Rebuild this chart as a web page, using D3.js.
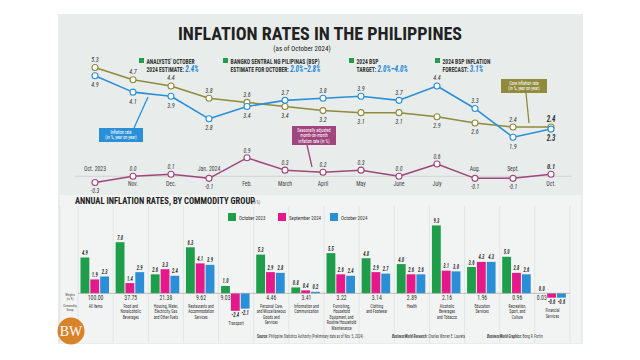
<!DOCTYPE html>
<html><head><meta charset="utf-8">
<script src="https://cdn.jsdelivr.net/npm/d3@7"></script>
<style>
html,body{margin:0;padding:0;background:#fff;}
svg{display:block;font-family:"Roboto Condensed","Liberation Sans Narrow","Roboto","Liberation Sans",sans-serif;}
</style></head>
<body>
<svg id="c" width="640" height="360"></svg>
<script>
// ---------- DATA ----------
const months = ["Oct. 2023","Nov.","Dec.","Jan. 2024","Feb.","March","April","May","June","July","Aug.","Sept.","Oct."];
const headline = [4.9,4.1,3.9,2.8,3.4,3.7,3.8,3.9,3.7,4.4,3.3,1.9,2.3];
const core = [5.3,4.7,4.4,3.8,3.6,3.4,3.2,3.1,3.1,2.9,2.6,2.4,2.4];
const mom = [-0.3,0.0,0.1,-0.1,0.9,0.3,0.2,0.3,0.0,0.6,-0.1,-0.1,0.1];

const groups = [
  ["All Items"],
  ["Food and","Nonalcoholic","Beverages"],
  ["Housing, Water,","Electricity, Gas","and Other Fuels"],
  ["Restaurants and","Accommodation","Services"],
  ["Transport"],
  ["Personal Care,","and Miscellaneous","Goods and","Services"],
  ["Information and","Communication"],
  ["Furnishing,","Household","Equipment, and","Routine Household","Maintenance"],
  ["Clothing","and Footwear"],
  ["Health"],
  ["Alcoholic","Beverages","and Tobacco"],
  ["Education","Services"],
  ["Recreation,","Sport, and","Culture"],
  ["Financial","Services"]
];
const weights = ["100.00","37.75","21.38","9.62","9.03","4.46","3.41","3.22","3.14","2.89","2.16","1.96","0.96","0.03"];
const seriesNames = ["October 2023","September 2024","October 2024"];
const oct2023 = [4.9,7.0,2.6,6.3,1.0,5.3,0.8,5.5,4.8,4.0,9.3,3.6,5.0,0.0];
const sep2024 = [1.9,1.4,3.3,4.1,-2.4,2.9,0.4,2.6,2.9,2.6,3.1,4.3,2.8,-0.6];
const oct2024 = [2.3,2.9,2.4,3.9,-2.1,2.8,0.2,2.4,2.7,2.6,3.0,4.3,2.6,-0.6];

const legendItems = [
  ["ANALYSTS' OCTOBER","2024 ESTIMATE: ","2.4%"],
  ["BANGKO SENTRAL NG PILIPINAS (BSP)","ESTIMATE FOR OCTOBER: ","2.0%–2.8%"],
  ["2024 BSP","TARGET: ","2.0%–4.0%"],
  ["2024 BSP INFLATION","FORECAST: ","3.1%"]
];

// ---------- STYLE ----------
const C = {blue:"#2b8fd8", olive:"#8f8a3c", mom:"#a0457d", green:"#1e9e4a", pink:"#e6198b", bblue:"#2a8fd6", text:"#333", hl:"#1f86d6"};
const SX = 0.8;
const svg = d3.select("#c");
const fmt = v => v.toFixed(1);

function T(sel, x, y, s, o={}){
  const t = sel.append("text")
    .attr("transform",`translate(${x},${y}) scale(${o.sx||SX},1)`)
    .attr("text-anchor",o.anchor||"start")
    .attr("font-size",o.size||7)
    .attr("fill",o.fill||"#333");
  if(o.bold) t.attr("font-weight","bold");
  if(o.italic) t.attr("font-style","italic");
  if(s!==null) t.text(s);
  return t;
}

// backgrounds
svg.append("rect").attr("x",58).attr("y",14).attr("width",525).attr("height",330).attr("fill","#e8edeb");
svg.append("rect").attr("x",60).attr("y",195).attr("width",521).attr("height",148).attr("fill","#f2f4f3");

// title
svg.append("text").attr("x",320).attr("y",39.5).attr("text-anchor","middle")
  .attr("font-size",17.5).attr("font-weight","bold").attr("fill","#222")
  .attr("textLength",284).attr("lengthAdjust","spacingAndGlyphs")
  .text("INFLATION RATES IN THE PHILIPPINES");
T(svg,302,51,"(as of October 2024)",{anchor:"middle",size:8,fill:"#222",sx:0.88});

// top legend
const legX = [139,223,349,435];
legendItems.forEach((d,i)=>{
  const g = svg.append("g").attr("transform",`translate(${legX[i]},0)`);
  g.append("rect").attr("x",0).attr("y",58).attr("width",5).attr("height",5).attr("fill",C.green);
  T(g,7.5,63.5,d[0],{size:7,bold:true});
  const t = T(g,7.5,72,null,{size:7,bold:true});
  t.append("tspan").text(d[1]);
  t.append("tspan").attr("font-size",8.8).attr("font-style","italic").attr("fill",C.hl).text(d[2]);
});

// ---------- LINE CHART ----------
const x = d3.scalePoint().domain(months).range([95,551]);
const y = d3.scaleLinear().domain([0,5.3]).range([176.3,67.5]);

svg.append("line").attr("x1",75).attr("x2",572).attr("y1",y(0)).attr("y2",y(0)).attr("stroke","#c9cecc").attr("stroke-width",0.8);

const line = d3.line().x((d,i)=>x(months[i])).y(d=>y(d));
function drawSeries(vals,color,width){
  svg.append("path").datum(vals).attr("d",line).attr("fill","none").attr("stroke",color).attr("stroke-width",width).attr("stroke-linejoin","round");
  svg.append("g").selectAll("circle").data(vals).join("circle")
    .attr("cx",(d,i)=>x(months[i])).attr("cy",d=>y(d)).attr("r",3)
    .attr("fill","#fff").attr("stroke",color).attr("stroke-width",1.1);
}
drawSeries(core,C.olive,1.5);
drawSeries(headline,C.blue,1.6);
drawSeries(mom,C.mom,1.5);

const last = months.length-1;
headline.forEach((v,i)=>{
  const above = v > core[i];
  T(svg,x(months[i]),y(v)+(above?-5.5:11.5),fmt(v),{anchor:"middle",size:i===last?8.5:7.5,italic:true,bold:i===last});
});
core.forEach((v,i)=>{
  const above = v >= headline[i];
  T(svg,x(months[i]),y(v)+(above?-5.5:11.5),fmt(v),{anchor:"middle",size:i===last?8.5:7.5,italic:true,bold:i===last});
});
mom.forEach((v,i)=>{
  const above = v >= 0;
  T(svg,x(months[i]),y(v)+(above?-5:11),fmt(v),{anchor:"middle",size:i===last?8:7.2,italic:true,bold:i===last});
  T(svg,x(months[i]),above? y(0)+10 : y(0)-5,months[i],{anchor:"middle",size:7.2,fill:"#444"});
});

function callout(bx,by,bw,bh,color,lines,tail){
  svg.append("path").attr("d",`M${tail[0]},${tail[1]}L${tail[2]},${tail[3]}`).attr("stroke",color).attr("stroke-width",1.3);
  svg.append("rect").attr("x",bx).attr("y",by).attr("width",bw).attr("height",bh).attr("fill",color);
  lines.forEach((l,i)=>T(svg,bx+bw/2,by+6+i*5.3,l,{anchor:"middle",size:5.3,fill:"#fff"}));
}
callout(99,128,44,14,C.blue,["Inflation rate","(in %, year on year)"],[134,128,148,97]);
callout(501,79,46,14,C.olive,["Core inflation rate","(in %, year on year)"],[526,93,529,123]);
callout(292,126,44,19,C.mom,["Seasonally adjusted","month-on-month","inflation rate (in %)"],[307,145,312,167]);

// ---------- BAR CHART ----------
T(svg,75,204,"ANNUAL INFLATION RATES, BY COMMODITY GROUP",{size:9,bold:true,fill:"#222",sx:0.95});
T(svg,252,204,"(in %)",{size:4.6,fill:"#555"});

const cats = groups.map(g=>g.join(" "));
const xb = d3.scaleBand().domain(cats).range([78,570]);
const xs = d3.scaleBand().domain(seriesNames).range([2.5,31]).paddingInner(0.1);
const yb = d3.scaleLinear().domain([0,9.3]).range([293.3,293.3-67.9]);
const seriesVals = [oct2023,sep2024,oct2024];
const colors = [C.green,C.pink,C.bblue];

const gl = [60].concat(cats.map(c=>xb(c))).concat([570]);
svg.append("g").selectAll("line").data(gl).join("line")
  .attr("x1",d=>d).attr("x2",d=>d).attr("y1",206).attr("y2",343).attr("stroke","#dde2e0").attr("stroke-width",0.8);

const lx = [228,278,330];
seriesNames.forEach((s,i)=>{
  svg.append("rect").attr("x",lx[i]).attr("y",213).attr("width",8).attr("height",8).attr("fill",colors[i]);
  T(svg,lx[i]+11,219.5,s,{size:6.2,fill:"#333"});
});

seriesVals.forEach((vals,si)=>{
  svg.append("g").selectAll("rect").data(vals).join("rect")
    .attr("x",(d,i)=>xb(cats[i])+xs(seriesNames[si])).attr("width",xs.bandwidth())
    .attr("y",d=>yb(Math.max(0,d))).attr("height",d=>Math.abs(yb(d)-yb(0)))
    .attr("fill",colors[si]);
  vals.forEach((d,i)=>{
    T(svg,xb(cats[i])+xs(seriesNames[si])+xs.bandwidth()/2, d>=0 ? yb(d)-2.5 : yb(d)+6,fmt(d),
      {anchor:"middle",size:6.4,italic:true,bold:true,sx:0.72});
  });
});
svg.append("line").attr("x1",78).attr("x2",570).attr("y1",yb(0)).attr("y2",yb(0)).attr("stroke","#999").attr("stroke-width",0.6);

cats.forEach((c,i)=>{
  const minV = Math.min(oct2023[i],sep2024[i],oct2024[i]);
  const wx = minV<0 ? xb(c)+xs(seriesNames[0])+xs.bandwidth()/2 : xb(c)+xb.bandwidth()/2;
  T(svg,wx,yb(0)+7,weights[i],{anchor:"middle",size:7,fill:"#333",sx:0.82});
  const top0 = minV<0 ? Math.max(yb(0)+14.5, yb(minV)+14.5) : yb(0)+14.5;
  groups[i].forEach((l,j)=>T(svg,xb(c)+xb.bandwidth()/2,top0+j*5.5,l,{anchor:"middle",size:5.5,sx:0.72}));
});
[["Weights",296],["(in %)",300],["Commodity",307],["Group",311]].forEach(d=>
  T(svg,70,d[1],d[0],{anchor:"middle",size:3.8,fill:"#444",sx:0.8}));

// credits
const cr = T(svg,257,338,null,{size:5,fill:"#444",sx:0.72});
cr.append("tspan").attr("font-weight","bold").text("Source: ");
cr.append("tspan").text("Philippine Statistics Authority (Preliminary data as of Nov. 5, 2024)");
const cr2 = T(svg,392,338,null,{size:5,fill:"#444",sx:0.72});
cr2.append("tspan").attr("font-weight","bold").attr("font-style","italic").text("BusinessWorld Research: ");
cr2.append("tspan").text("Charles Worren E. Laureta");
const cr3 = T(svg,487,338,null,{size:5,fill:"#444",sx:0.72});
cr3.append("tspan").attr("font-weight","bold").attr("font-style","italic").text("BusinessWorld Graphics: ");
cr3.append("tspan").text("Bong R. Fortin");

// BW logo
svg.append("circle").attr("cx",71).attr("cy",331).attr("r",13.5).attr("fill","#d8832a");
svg.append("text").attr("x",71).attr("y",336).attr("text-anchor","middle").attr("font-family","Liberation Serif, DejaVu Serif, serif")
  .attr("font-size",14).attr("fill","#fff").text("BW");
</script>
</body></html>
